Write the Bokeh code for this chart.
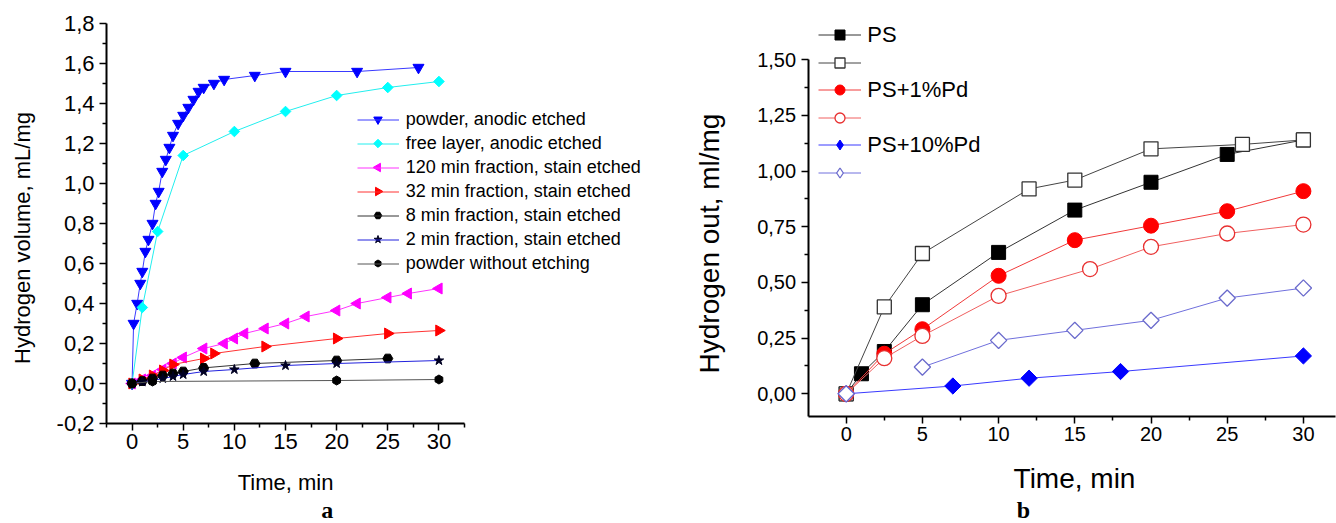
import numpy as np
from bokeh.plotting import figure
from bokeh.models import Legend, LegendItem, FixedTicker, Range1d
from bokeh.layouts import row
from bokeh.core.properties import value
from bokeh.embed import file_html
from bokeh.resources import INLINE

FONT = "Liberation Sans"
SERIF = "Liberation Serif"

# ---------------- panel a data ----------------
pa_t = [0, 0.15, 0.5, 0.8, 1.0, 1.3, 1.6, 2.0, 2.3, 2.6, 2.95, 3.3, 3.65, 4.0, 4.5,
        5.0, 5.5, 6.0, 6.5, 7.0, 8.0, 9.0, 12, 15, 22, 28]
pa_v = [0, 0.30, 0.40, 0.50, 0.56, 0.66, 0.72, 0.80, 0.90, 0.96, 1.06, 1.12, 1.18, 1.24, 1.30,
        1.34, 1.38, 1.42, 1.46, 1.48, 1.50, 1.52, 1.54, 1.56, 1.56, 1.58]
fl_t = [0, 1, 2.5, 5, 10, 15, 20, 25, 30]
fl_v = [0, 0.38, 0.76, 1.14, 1.26, 1.36, 1.44, 1.48, 1.51]
m120_t = [0, 1, 2, 3, 4, 5, 7, 9, 10, 11, 13, 15, 17, 20, 22, 25, 27, 30]
m120_v = [0, 0.02, 0.04, 0.07, 0.10, 0.13, 0.175, 0.20, 0.225, 0.25, 0.275, 0.30, 0.335,
          0.365, 0.40, 0.43, 0.45, 0.475]
m32_t = [0, 1, 2, 3, 4, 7, 8, 13, 20, 25, 30]
m32_v = [0, 0.02, 0.04, 0.065, 0.095, 0.125, 0.15, 0.185, 0.225, 0.25, 0.265]
m8_t = [0, 1, 2, 3, 4, 5, 7, 12, 20, 25]
m8_v = [0, 0.012, 0.025, 0.04, 0.05, 0.06, 0.078, 0.10, 0.115, 0.125]
m2_t = [0, 1, 2, 3, 4, 5, 7, 10, 15, 20, 30]
m2_v = [0, 0.008, 0.015, 0.025, 0.035, 0.045, 0.06, 0.07, 0.09, 0.10, 0.115]
pw_t = [0, 2, 20, 30]
pw_v = [0, 0.01, 0.015, 0.02]

a_labels = ["powder, anodic etched", "free layer, anodic etched",
            "120 min fraction, stain etched", "32 min fraction, stain etched",
            "8 min fraction, stain etched", "2 min fraction, stain etched",
            "powder without etching"]
a_xlabel = "Time, min"
a_ylabel = "Hydrogen volume, mL/mg"
a_caption = "a"

a_xticks = [0, 5, 10, 15, 20, 25, 30]
a_xminor = [-2.5, 2.5, 7.5, 12.5, 17.5, 22.5, 27.5, 32.5]
a_xtick_labels = ["0", "5", "10", "15", "20", "25", "30"]
a_yticks = [-0.2, 0.0, 0.2, 0.4, 0.6, 0.8, 1.0, 1.2, 1.4, 1.6, 1.8]
a_yminor = [-0.1, 0.1, 0.3, 0.5, 0.7, 0.9, 1.1, 1.3, 1.5, 1.7]
a_ytick_labels = ["-0,2", "0,0", "0,2", "0,4", "0,6", "0,8", "1,0", "1,2", "1,4", "1,6", "1,8"]

# ---------------- panel b data ----------------
ps_t = [0, 1, 2.5, 5, 10, 15, 20, 25, 30]
ps_v = [0, 0.09, 0.19, 0.40, 0.635, 0.825, 0.95, 1.075, 1.14]
pso_t = [0, 2.5, 5, 12, 15, 20, 26, 30]
pso_v = [0, 0.39, 0.63, 0.92, 0.96, 1.10, 1.12, 1.14]
pd1_t = [0, 2.5, 5, 10, 15, 20, 25, 30]
pd1_v = [0, 0.18, 0.29, 0.53, 0.69, 0.755, 0.82, 0.91]
pd1o_t = [0, 2.5, 5, 10, 16, 20, 25, 30]
pd1o_v = [0, 0.16, 0.26, 0.44, 0.56, 0.66, 0.72, 0.76]
pd10_t = [0, 7, 12, 18, 30]
pd10_v = [0, 0.035, 0.07, 0.10, 0.17]
pd10o_t = [0, 5, 10, 15, 20, 25, 30]
pd10o_v = [0, 0.12, 0.24, 0.285, 0.33, 0.43, 0.475]

b_labels = ["PS", " ", "PS+1%Pd", " ", "PS+10%Pd", " "]
b_xlabel = "Time, min"
b_ylabel = "Hydrogen out, ml/mg"
b_caption = "b"

b_xticks = [0, 5, 10, 15, 20, 25, 30]
b_xminor = [2.5, 7.5, 12.5, 17.5, 22.5, 27.5]
b_xtick_labels = ["0", "5", "10", "15", "20", "25", "30"]
b_yticks = [0.0, 0.25, 0.5, 0.75, 1.0, 1.25, 1.5]
b_yminor = [0.125, 0.375, 0.625, 0.875, 1.125, 1.375]
b_ytick_labels = ["0,00", "0,25", "0,50", "0,75", "1,00", "1,25", "1,50"]


def style(p, tick_fs, tick_out, xtick_stand, ytick_stand):
    p.background_fill_color = "white"
    p.border_fill_color = "white"
    p.outline_line_color = None
    p.xgrid.visible = False
    p.ygrid.visible = False
    for ax in p.axis:
        ax.axis_line_width = 2
        ax.axis_line_color = "black"
        ax.major_tick_line_width = 1.5
        ax.minor_tick_line_width = 1.5
        ax.major_tick_line_color = "black"
        ax.minor_tick_line_color = "black"
        ax.major_tick_in = 0
        ax.major_tick_out = tick_out
        ax.minor_tick_in = 0
        ax.minor_tick_out = 4
        ax.major_label_text_font = FONT
        ax.major_label_text_font_size = tick_fs
        ax.major_label_text_color = "black"
    p.xaxis.major_label_standoff = xtick_stand
    p.yaxis.major_label_standoff = ytick_stand


class PxMap:
    """pixel (within the figure) -> data mapping of a figure whose frame is the whole canvas"""
    def __init__(self, ax_px, ax_val, px_per_x, ay_px, ay_val, px_per_y):
        self.ax_px, self.ax_val, self.kx = ax_px, ax_val, px_per_x
        self.ay_px, self.ay_val, self.ky = ay_px, ay_val, px_per_y

    def x(self, px):
        return self.ax_val + (px - self.ax_px) / self.kx

    def y(self, py):
        return self.ay_val - (py - self.ay_px) / self.ky


def text(p, x, y, s, size, angle=0.0, font=FONT, style_="normal"):
    p.text([x], [y], text=[s], angle=angle, text_font=value(font), text_font_size=size,
           text_font_style=style_, text_align="center", text_baseline="middle",
           text_color="black")


# ================= panel a =================
A_W, A_H = 671, 523
ma = PxMap(106, -2.5, 358 / 35.0, 23, 1.8, 200.0)
pa = figure(frame_width=A_W, frame_height=A_H,
            x_range=Range1d(ma.x(0), ma.x(A_W)), y_range=Range1d(ma.y(A_H), ma.y(0)),
            output_backend="svg", toolbar_location=None, min_border=0)
pa.xaxis.ticker = FixedTicker(ticks=a_xticks, minor_ticks=a_xminor)
pa.yaxis.ticker = FixedTicker(ticks=a_yticks, minor_ticks=a_yminor)
pa.xaxis.major_label_overrides = {t: s for t, s in zip(a_xticks, a_xtick_labels)}
pa.yaxis.major_label_overrides = {t: s for t, s in zip(a_yticks, a_ytick_labels)}
pa.xaxis.fixed_location = -0.2
pa.yaxis.fixed_location = -2.5
pa.xaxis.bounds = (-2.5, 32.5)
pa.yaxis.bounds = (-0.2, 1.8)
style(pa, "22px", 7, 3, 5)

series_a = [
    (pa_t, pa_v, "inverted_triangle", 11, 0, "#0000ff", "#3a3aff"),
    (fl_t, fl_v, "square", 7.5, np.pi / 4, "#00ffff", "#22eeee"),
    (m120_t, m120_v, "triangle", 11, np.pi / 2, "#ff00ff", "#ff33ff"),
    (m32_t, m32_v, "triangle", 11, -np.pi / 2, "#ff0000", "#ff3333"),
    (m8_t, m8_v, "hex", 10, 0, "#000000", "#333333"),
    (m2_t, m2_v, "star", 10, 0, "#000022", "#2222dd"),
    (pw_t, pw_v, "hex", 9, np.pi / 6, "#000000", "#555555"),
]
legend_marker_size = [8.5, 6, 8.5, 8.5, 7.5, 8, 7]

LEG_L, LEG_R = 356.7, 398.3
LEG_TOP, LEG_ROW_H, LEG_SP = 119.0, 21, 3
LEG_STEP = LEG_ROW_H + LEG_SP

items_a = []
for i, ((tx, vy, mk, sz, ang, mcol, lcol), lab) in enumerate(zip(series_a, a_labels)):
    ln = pa.line(tx, vy, line_color=lcol, line_width=1)
    pa.scatter(tx, vy, marker=mk, size=sz, angle=ang, fill_color=mcol, line_color=mcol)
    items_a.append(LegendItem(label=value(lab), renderers=[ln]))
    pa.scatter([ma.x((LEG_L + LEG_R) / 2)], [ma.y(LEG_TOP + LEG_STEP * i)], marker=mk,
               size=legend_marker_size[i], angle=ang, fill_color=mcol, line_color=mcol)

n_a = len(a_labels)
leg_h = n_a * LEG_ROW_H + (n_a - 1) * LEG_SP
leg_bottom = LEG_TOP - LEG_ROW_H / 2 + leg_h
leg_a = Legend(items=items_a, location=(LEG_L, A_H - leg_bottom),
               glyph_width=int(round(LEG_R - LEG_L)), glyph_height=LEG_ROW_H,
               label_height=LEG_ROW_H, spacing=LEG_SP, label_standoff=7, padding=0, margin=0,
               border_line_color=None, background_fill_alpha=0,
               label_text_font=FONT, label_text_font_size="18px", label_text_color="black")
pa.add_layout(leg_a, "center")

text(pa, ma.x(285), ma.y(481.5), a_xlabel, "22px")
text(pa, ma.x(22), ma.y(237.5), a_ylabel, "22px", angle=np.pi / 2)
text(pa, ma.x(326.7), ma.y(509), a_caption, "24px", font=SERIF, style_="bold")

# ================= panel b =================
B_W, B_H = 665, 523
B_OFF = 671  # page x of this figure
mb = PxMap(807.6 - B_OFF, -2.5, 15.24, 393.3, 0.0, 222.67)
pb = figure(frame_width=B_W, frame_height=B_H,
            x_range=Range1d(mb.x(0), mb.x(B_W)), y_range=Range1d(mb.y(B_H), mb.y(0)),
            output_backend="svg", toolbar_location=None, min_border=0)
pb.xaxis.ticker = FixedTicker(ticks=b_xticks, minor_ticks=b_xminor)
pb.yaxis.ticker = FixedTicker(ticks=b_yticks, minor_ticks=b_yminor)
pb.xaxis.major_label_overrides = {t: s for t, s in zip(b_xticks, b_xtick_labels)}
pb.yaxis.major_label_overrides = {t: s for t, s in zip(b_yticks, b_ytick_labels)}
pb.xaxis.fixed_location = -0.1
pb.yaxis.fixed_location = -2.5
pb.xaxis.bounds = (-2.5, 32.1)
pb.yaxis.bounds = (-0.1, 1.5)
style(pb, "20px", 7, 4, 5)

items_b = []
ln = pb.line(ps_t, ps_v, line_color="#333333", line_width=1)
sc = pb.scatter(ps_t, ps_v, marker="square", size=14, fill_color="black", line_color="black")
items_b.append(LegendItem(label=value(b_labels[0]), renderers=[ln, sc]))

ln = pb.line(pso_t, pso_v, line_color="#444444", line_width=1)
sc = pb.scatter(pso_t, pso_v, marker="square", size=14, fill_color="white", line_color="#333333",
                line_width=1.3)
items_b.append(LegendItem(label=value(b_labels[1]), renderers=[ln, sc]))

ln = pb.line(pd1_t, pd1_v, line_color="#f03a3a", line_width=1)
sc = pb.scatter(pd1_t, pd1_v, marker="circle", size=15, fill_color="#ff0000", line_color="#ff0000")
items_b.append(LegendItem(label=value(b_labels[2]), renderers=[ln, sc]))

ln = pb.line(pd1o_t, pd1o_v, line_color="#f06060", line_width=1)
sc = pb.scatter(pd1o_t, pd1o_v, marker="circle", size=15, fill_color="white", line_color="#e83030",
                line_width=1.3)
items_b.append(LegendItem(label=value(b_labels[3]), renderers=[ln, sc]))

ln = pb.line(pd10_t, pd10_v, line_color="#3a3aff", line_width=1)
pb.scatter(pd10_t, pd10_v, marker="square", size=11.5, angle=np.pi / 4,
           fill_color="#0000ff", line_color="#0000ff")
lg = pb.scatter(pd10_t, pd10_v, marker="diamond", size=0, fill_color="#0000ff", line_color="#0000ff")
items_b.append(LegendItem(label=value(b_labels[4]), renderers=[ln, lg]))

ln = pb.line(pd10o_t[1:], pd10o_v[1:], line_color="#7070dd", line_width=1)
pb.scatter(pd10o_t, pd10o_v, marker="square", size=11.5, angle=np.pi / 4,
           fill_color="white", line_color="#6a6acc", line_width=1.3)
lg = pb.scatter(pd10o_t, pd10o_v, marker="diamond", size=0, fill_color="white", line_color="#6a6acc",
                line_width=1.3)
items_b.append(LegendItem(label=value(b_labels[5]), renderers=[ln, lg]))

LEGB_L, LEGB_TOP, LEGB_ROW_H, LEGB_SP = 818.3 - B_OFF, 37.3, 25, 2
n_b = len(b_labels)
legb_bottom = LEGB_TOP - LEGB_ROW_H / 2 + n_b * LEGB_ROW_H + (n_b - 1) * LEGB_SP
leg_b = Legend(items=items_b, location=(LEGB_L, B_H - legb_bottom), glyph_width=43,
               glyph_height=LEGB_ROW_H, label_height=LEGB_ROW_H, spacing=LEGB_SP,
               label_standoff=6, padding=0, margin=0,
               border_line_color=None, background_fill_alpha=0,
               label_text_font=FONT, label_text_font_size="22px", label_text_color="black")
pb.add_layout(leg_b, "center")

text(pb, mb.x(1074 - B_OFF), mb.y(478), b_xlabel, "28px")
text(pb, mb.x(709 - B_OFF), mb.y(243), b_ylabel, "28px", angle=np.pi / 2)
text(pb, mb.x(1023 - B_OFF), mb.y(509), b_caption, "24px", font=SERIF, style_="bold")

layout = row(pa, pb)
open("out.html", "w").write(file_html(layout, INLINE))
